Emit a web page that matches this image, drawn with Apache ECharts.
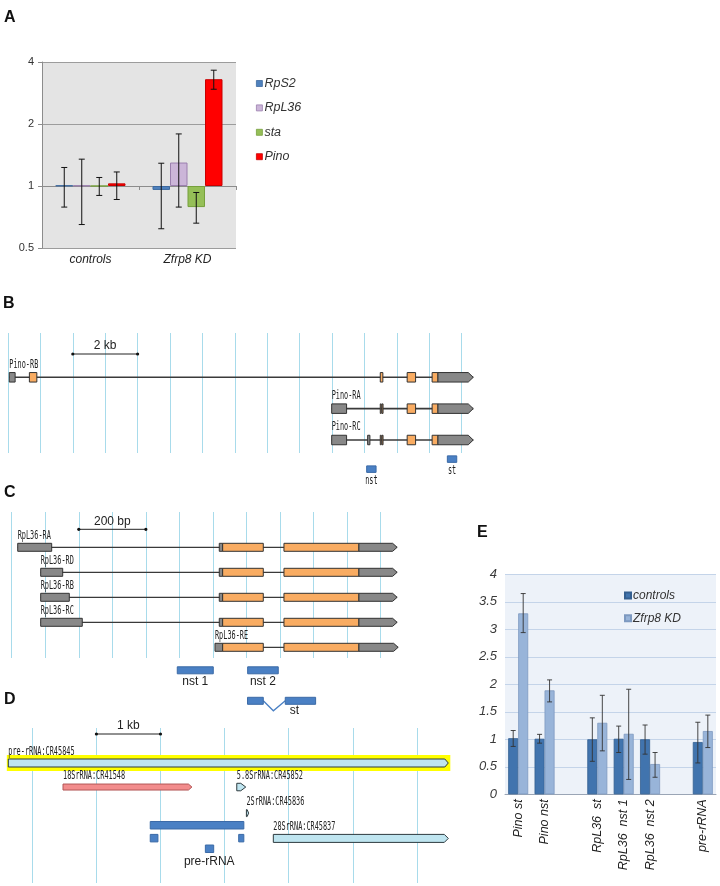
<!DOCTYPE html>
<html><head><meta charset="utf-8">
<script src="https://cdn.jsdelivr.net/npm/echarts@6/dist/echarts.min.js"></script>
<style>html,body{margin:0;padding:0;background:#fff}#c{width:720px;height:886px}</style>
</head><body><div id="c"></div>
<script>
// ===================== DATA =====================
// Panel A (fold change, log2 axis)
const aCategories = ['controls', 'Zfrp8 KD'];
const aSeriesNames = ['RpS2', 'RpL36', 'sta', 'Pino'];
const aRpS2 = [1.005, 0.957];
const aRpL36 = [1.005, 1.30];
const aSta = [1.0, 0.79];
const aPino = [1.03, 3.30];
const aErrLow = [[0.79, 0.62], [0.65, 0.79], [0.90, 0.66], [0.86, 2.95]];
const aErrHigh = [[1.23, 1.29], [1.35, 1.79], [1.10, 0.93], [1.17, 3.65]];
const aTicks = [0.5, 1, 2, 4];

// Panel B (Pino locus, kb)
const bNames = ['Pino-RB', 'Pino-RA', 'Pino-RC'];
const bLines = [[0, 0.04, 14.36], [1, 9.99, 14.36], [2, 9.99, 14.36]];
const bUTR = [[0, 0.04, 0.22], [1, 9.99, 10.45], [2, 9.99, 10.45], [2, 11.10, 11.17]];
const bCDS = [[0, 0.66, 0.89], [0, 11.49, 11.57], [0, 12.32, 12.58], [0, 13.09, 13.27],
              [1, 11.49, 11.50], [1, 11.545, 11.555], [1, 12.32, 12.58], [1, 13.09, 13.27],
              [2, 11.49, 11.50], [2, 11.545, 11.555], [2, 12.32, 12.58], [2, 13.09, 13.27]];
const bUTR3 = [[0, 13.27, 14.36], [1, 13.27, 14.36], [2, 13.27, 14.36]];
const bProbeNames = ['nst', 'st'];
const bProbes = [[2.93, 11.07, 11.36], [2.61, 13.56, 13.85]];
const bScale = [[-0.743, 2, 4]];
const bScaleText = ['2 kb'];

// Panel C (RpL36 locus, bp)
const cNames = ['RpL36-RA', 'RpL36-RD', 'RpL36-RB', 'RpL36-RC', 'RpL36-RE'];
const cLines = [[0, 17.9, 1149], [1, 86.4, 1149], [2, 86.4, 1149], [3, 86.4, 1149], [4, 606, 1152]];
const cUTR = [[0, 17.9, 119.2], [0, 618.8, 628.9], [1, 86.4, 152], [1, 618.8, 628.9],
              [2, 86.4, 171.7], [2, 618.8, 628.9], [3, 86.4, 210.4], [3, 618.8, 628.9], [4, 606, 628.9]];
const cCDS = [[0, 628.9, 750], [0, 811.6, 1035], [1, 628.9, 750], [1, 811.6, 1035],
              [2, 628.9, 750], [2, 811.6, 1035], [3, 628.9, 750], [3, 811.6, 1035],
              [4, 628.9, 750], [4, 811.6, 1035]];
const cUTR3 = [[0, 1035, 1149], [1, 1035, 1149], [2, 1035, 1149], [3, 1035, 1149], [4, 1035, 1152]];
const cProbeNames = ['nst 1', 'nst 2'];
const cProbes = [[4.92, 493.6, 600.9], [4.92, 703.4, 794.6]];
const cStName = ['st'];
const cStProbe = [[6.14, 703, 750, 815.5, 906, 780]];
const cScale = [[-0.72, 200, 400]];
const cScaleText = ['200 bp'];

// Panel D (rDNA unit, kb)
const dNames = ['pre-rRNA:CR45845', '18SrRNA:CR41548', '5.8SrRNA:CR45852', '2SrRNA:CR45836', '28SrRNA:CR45837'];
const dFeatures = [[0, -0.374, 6.49], [0.95, 0.479, 2.49], [0.95, 3.19, 3.33], [1.98, 3.34, 3.375], [2.98, 3.76, 6.49]];
const dProbes = [[2.46, 1.84, 3.30], [2.97, 1.84, 1.96], [2.97, 3.22, 3.30], [3.39, 2.70, 2.83]];
const dProbeName = ['pre-rRNA'];
const dProbeLabel = [[3.39, 2.76]];
const dScale = [[-1.146, 1, 2]];
const dScaleText = ['1 kb'];

// Panel E (relative expression)
const eCategories = ['Pino st', 'Pino nst', '', 'RpL36  st', 'RpL36  nst 1', 'RpL36  nst 2', ' ', 'pre-rRNA'];
const eSeriesNames = ['controls', 'Zfrp8 KD'];
const eControls = [1.02, 1.01, null, 1.00, 1.01, 1.00, null, 0.95];
const eKD = [3.29, 1.89, null, 1.30, 1.10, 0.55, null, 1.15];
const eCtrlLow = [0.87, 0.93, null, 0.60, 0.76, 0.73, null, 0.57];
const eCtrlHigh = [1.16, 1.09, null, 1.39, 1.24, 1.26, null, 1.31];
const eKDLow = [2.94, 1.68, null, 0.79, 0.27, 0.31, null, 0.85];
const eKDHigh = [3.65, 2.08, null, 1.80, 1.91, 0.76, null, 1.44];

// ===================== STYLE / LAYOUT =====================
const FONT = 'Liberation Sans, Arial, sans-serif';
const MONO = '"DejaVu Sans Mono"';
const ORANGE = '#f9ac62', GREY = '#888888', EDGE = '#333333';
const PROBE = '#4a80c4', PROBE_EDGE = '#3b6aa6';
const VLINE = '#a8dbeb';
const NAME_FONT = '12.5px ' + MONO, NAME_SX = 0.55;

function rowRange(top, height, y0, step) {
  return { min: (top - y0) / step, max: (top + height - y0) / step };
}
const bRows = rowRange(333, 120, 377.3, 31.35);
const cRows = rowRange(512, 146, 547.3, 25);
const dRows = rowRange(728, 155, 763, 25.3);

function cs(gi, data, render, z) {
  return { type: 'custom', xAxisIndex: gi, yAxisIndex: gi, data: data, clip: false, silent: true,
    z: z || 2, animation: false, renderItem: render };
}
function pts(api) {
  const r = api.value(0);
  const p0 = api.coord([api.value(1), r]);
  const p1 = api.coord([api.value(2), r]);
  return [p0[0], p1[0], p0[1]];
}
function lineR(color, w) {
  return (params, api) => {
    const [x0, x1, y] = pts(api);
    return { type: 'line', shape: { x1: x0, y1: y, x2: x1, y2: y }, style: { stroke: color, lineWidth: w } };
  };
}
function boxR(h, fill, stroke, minW) {
  return (params, api) => {
    const [x0, x1, y] = pts(api);
    const w = Math.max(x1 - x0, minW || 1);
    return { type: 'rect', shape: { x: x0, y: y - h / 2, width: w, height: h },
      style: { fill: fill, stroke: stroke, lineWidth: 1 } };
  };
}
function arrowR(h, tip, fill, stroke) {
  return (params, api) => {
    const [x0, x1, y] = pts(api);
    const t = Math.min(tip, x1 - x0);
    return { type: 'polygon', shape: { points: [[x0, y - h / 2], [x1 - t, y - h / 2], [x1, y], [x1 - t, y + h / 2], [x0, y + h / 2]] },
      style: { fill: fill, stroke: stroke, lineWidth: 1 } };
  };
}
function nameR(names, dy) {
  return (params, api) => {
    const p = api.coord([api.value(1), api.value(0)]);
    return { type: 'text', x: p[0], y: p[1] + dy, scaleX: NAME_SX, scaleY: 1,
      style: { text: names[params.dataIndex], font: NAME_FONT, fill: '#222', align: 'left', verticalAlign: 'middle' } };
  };
}
function centerLabelR(names, dy, font, narrow) {
  return (params, api) => {
    const r = api.value(0);
    const xs = api.value(2);
    const xm = isNaN(xs) ? api.value(1) : (api.value(1) + xs) / 2;
    const p = api.coord([xm, r]);
    return { type: 'text', x: p[0], y: p[1] + dy, scaleX: narrow ? NAME_SX : 1, scaleY: 1,
      style: { text: names[params.dataIndex], font: font, fill: '#222', align: 'center', verticalAlign: 'middle' } };
  };
}
function scaleR(texts) {
  return (params, api) => {
    const [x0, x1, y] = pts(api);
    return { type: 'group', children: [
      { type: 'line', shape: { x1: x0, y1: y, x2: x1, y2: y }, style: { stroke: '#222', lineWidth: 1 } },
      { type: 'circle', shape: { cx: x0, cy: y, r: 1.6 }, style: { fill: '#111' } },
      { type: 'circle', shape: { cx: x1, cy: y, r: 1.6 }, style: { fill: '#111' } },
      { type: 'text', x: (x0 + x1) / 2, y: y - 8, style: { text: texts[params.dataIndex], font: '12px ' + FONT, fill: '#222', align: 'center', verticalAlign: 'middle' } }
    ] };
  };
}
function trackX(gi, min, max, interval) {
  return { type: 'value', gridIndex: gi, min: min, max: max, interval: interval,
    axisLine: { show: false }, axisTick: { show: false }, axisLabel: { show: false },
    splitLine: { show: true, lineStyle: { color: VLINE, width: 1 } } };
}
function trackY(gi, rr) {
  return { type: 'value', gridIndex: gi, min: rr.min, max: rr.max, inverse: true, show: false, splitLine: { show: false } };
}

// ===================== SERIES =====================
const series = [];
// Panel A bars
const aData = [aRpS2, aRpL36, aSta, aPino];
const aColors = [['#4f81bd', '#3d6aa0'], ['#cbb5d8', '#9b7fae'], ['#95bf57', '#76a03c'], ['#ff0000', '#c80000']];
const A_BW = 17.5;
aData.forEach((arr, k) => {
  series.push({ type: 'bar', name: aSeriesNames[k], xAxisIndex: 0, yAxisIndex: 0, data: arr.map(Math.log2),
    barWidth: A_BW, barGap: '0%', animation: false,
    itemStyle: { color: aColors[k][0], borderColor: aColors[k][1], borderWidth: 1 } });
});
aData.forEach((arr, k) => {
  const d = arr.map((v, i) => [i, Math.log2(aErrLow[k][i]), Math.log2(aErrHigh[k][i])]);
  series.push({ type: 'custom', xAxisIndex: 0, yAxisIndex: 0, data: d, z: 5, silent: true, animation: false,
    renderItem: (params, api) => {
      const pl = api.coord([api.value(0), api.value(1)]);
      const ph = api.coord([api.value(0), api.value(2)]);
      const x = pl[0] + (k - 1.5) * A_BW;
      const c = 3;
      return { type: 'group', children: [
        { type: 'line', shape: { x1: x, y1: pl[1], x2: x, y2: ph[1] }, style: { stroke: '#111', lineWidth: 1 } },
        { type: 'line', shape: { x1: x - c, y1: pl[1], x2: x + c, y2: pl[1] }, style: { stroke: '#111', lineWidth: 1 } },
        { type: 'line', shape: { x1: x - c, y1: ph[1], x2: x + c, y2: ph[1] }, style: { stroke: '#111', lineWidth: 1 } }
      ] };
    } });
});

// Panel B
series.push(cs(1, bLines, lineR('#3a3a3a', 1.6), 2));
series.push(cs(1, bUTR, boxR(9.5, GREY, EDGE, 2), 3));
series.push(cs(1, bCDS, boxR(9.5, ORANGE, EDGE, 1), 3));
series.push(cs(1, bUTR3, arrowR(9.5, 5, GREY, EDGE), 3));
series.push(cs(1, bLines.map(l => [l[0], l[1]]), nameR(bNames, -13), 4));
series.push(cs(1, bProbes, boxR(6.5, PROBE, PROBE_EDGE, 2), 3));
series.push(cs(1, bProbes, centerLabelR(bProbeNames, 12, NAME_FONT, true), 4));
series.push(cs(1, bScale, scaleR(bScaleText), 4));

// Panel C
series.push(cs(2, cLines, lineR('#3a3a3a', 1.3), 2));
series.push(cs(2, cUTR, boxR(8, GREY, EDGE, 2), 3));
series.push(cs(2, cCDS, boxR(8, ORANGE, EDGE, 1), 3));
series.push(cs(2, cUTR3, arrowR(8, 4.5, GREY, EDGE), 3));
series.push(cs(2, cLines.map(l => [l[0], l[1]]), nameR(cNames, -12), 4));
series.push(cs(2, cProbes, boxR(7, PROBE, PROBE_EDGE, 2), 3));
series.push(cs(2, cProbes, centerLabelR(cProbeNames, 11, '12px ' + FONT, false), 4));
series.push(cs(2, cStProbe, (params, api) => {
  const r = api.value(0);
  const a0 = api.coord([api.value(1), r]), a1 = api.coord([api.value(2), r]);
  const b0 = api.coord([api.value(3), r]), b1 = api.coord([api.value(4), r]);
  const v = api.coord([api.value(5), r]);
  const h = 7;
  return { type: 'group', children: [
    { type: 'polyline', shape: { points: [[a1[0], a1[1]], [v[0], v[1] + 10], [b0[0], b0[1]]] }, style: { stroke: PROBE, lineWidth: 1.3, fill: null } },
    { type: 'rect', shape: { x: a0[0], y: a0[1] - h / 2, width: a1[0] - a0[0], height: h }, style: { fill: PROBE, stroke: PROBE_EDGE, lineWidth: 1 } },
    { type: 'rect', shape: { x: b0[0], y: b0[1] - h / 2, width: b1[0] - b0[0], height: h }, style: { fill: PROBE, stroke: PROBE_EDGE, lineWidth: 1 } },
    { type: 'text', x: (b0[0] + b1[0]) / 2 - 6, y: b0[1] + 10, style: { text: cStName[params.dataIndex], font: '12px ' + FONT, fill: '#222', align: 'center', verticalAlign: 'middle' } }
  ] };
}, 4));
series.push(cs(2, cScale, scaleR(cScaleText), 4));

// Panel D
const dFill = ['#bfe5f0', '#f28c8c', '#bfe5f0', '#bfe5f0', '#bfe5f0'];
const dStroke = ['#2d3a3e', '#b35656', '#2d3a3e', '#2d3a3e', '#2d3a3e'];
const dH = [8, 6, 7.5, 7, 8];
const dTip = [3.5, 3.5, 5, 1.5, 4];
series.push(cs(3, [dFeatures[0]], (params, api) => {
  const [x0, x1, y] = pts(api);
  return { type: 'rect', shape: { x: x0 - 1.5, y: y - 8, width: x1 - x0 + 3.5, height: 16 }, style: { fill: '#ffff00' } };
}, 2));
series.push(cs(3, dFeatures, (params, api) => {
  const i = params.dataIndex;
  return arrowR(dH[i], dTip[i], dFill[i], dStroke[i])(params, api);
}, 3));
series.push(cs(3, dFeatures.map(f => [f[0], f[1]]), (params, api) => {
  const p = api.coord([api.value(1), api.value(0)]);
  return { type: 'text', x: p[0], y: p[1] - 11.5, scaleX: NAME_SX, scaleY: 1,
    style: { text: dNames[params.dataIndex], font: NAME_FONT, fill: '#222', align: 'left', verticalAlign: 'middle' } };
}, 4));
series.push(cs(3, dProbes, boxR(7.5, PROBE, PROBE_EDGE, 2), 3));
series.push(cs(3, dProbeLabel, centerLabelR(dProbeName, 13, '12px ' + FONT, false), 4));
series.push(cs(3, dScale, scaleR(dScaleText), 4));

// Panel E
const eData = [eControls, eKD];
const eLow = [eCtrlLow, eKDLow], eHigh = [eCtrlHigh, eKDHigh];
const eColors = [['#4174ae', '#345f90'], ['#98b4d9', '#7d99c0']];
const E_BW = 10;
eData.forEach((arr, k) => {
  series.push({ type: 'bar', name: eSeriesNames[k], xAxisIndex: 4, yAxisIndex: 4, data: arr,
    barWidth: E_BW, barGap: '0%', animation: false,
    itemStyle: { color: eColors[k][0], borderColor: eColors[k][1], borderWidth: 0.8 } });
});
eData.forEach((arr, k) => {
  const d = [];
  arr.forEach((v, i) => { if (v !== null) d.push([i, eLow[k][i], eHigh[k][i]]); });
  series.push({ type: 'custom', xAxisIndex: 4, yAxisIndex: 4, data: d, z: 5, silent: true, animation: false,
    renderItem: (params, api) => {
      const pl = api.coord([api.value(0), api.value(1)]);
      const ph = api.coord([api.value(0), api.value(2)]);
      const x = pl[0] + (k - 0.5) * E_BW;
      const c = 2.5;
      const st = { stroke: '#333', lineWidth: 0.9 };
      return { type: 'group', children: [
        { type: 'line', shape: { x1: x, y1: pl[1], x2: x, y2: ph[1] }, style: st },
        { type: 'line', shape: { x1: x - c, y1: pl[1], x2: x + c, y2: pl[1] }, style: st },
        { type: 'line', shape: { x1: x - c, y1: ph[1], x2: x + c, y2: ph[1] }, style: st }
      ] };
    } });
});

// ===================== OPTION =====================
const aMin = Math.log2(aTicks[0]), aMax = Math.log2(aTicks[aTicks.length - 1]);
const panelLabel = (t, x, y) => ({ type: 'text', left: x, top: y,
  style: { text: t, font: 'bold 16px ' + FONT, fill: '#111' } });

const option = {
  animation: false,
  backgroundColor: '#ffffff',
  textStyle: { fontFamily: FONT },
  graphic: [
    panelLabel('A', 4, 10), panelLabel('B', 3, 296), panelLabel('C', 4, 485),
    panelLabel('D', 4, 692), panelLabel('E', 477, 525)
  ],
  grid: [
    { left: 42, top: 62, width: 194, height: 186, show: true, backgroundColor: '#e4e4e4', borderWidth: 0 },
    { left: 8, top: 333, width: 453.6, height: 120 },
    { left: 11.7, top: 512, width: 369, height: 146 },
    { left: 32.3, top: 728, width: 384.6, height: 155 },
    { left: 505, top: 574.3, width: 211, height: 220, show: true, backgroundColor: '#edf2f9', borderWidth: 0 }
  ],
  legend: [
    { data: aSeriesNames, orient: 'vertical', left: 251, top: 71.5, itemWidth: 6, itemHeight: 6, itemGap: 10.4,
      icon: 'rect', itemStyle: { borderWidth: 0.8 },
      textStyle: { fontStyle: 'italic', fontSize: 12.5, color: '#333', lineHeight: 14, padding: [0, 0, 0, -3] } },
    { data: eSeriesNames, orient: 'vertical', left: 619, top: 583.5, itemWidth: 6, itemHeight: 6, itemGap: 8.7,
      icon: 'rect', textStyle: { fontStyle: 'italic', fontSize: 12, color: '#333', lineHeight: 14, padding: [0, 0, 0, -3] } }
  ],
  xAxis: [
    { type: 'category', gridIndex: 0, data: aCategories,
      axisLine: { onZero: true, lineStyle: { color: '#8c8c8c', width: 1 } },
      axisTick: { show: true, length: 4, lineStyle: { color: '#8c8c8c' } },
      axisLabel: { fontStyle: 'italic', fontSize: 12, color: '#222', margin: 6 },
      splitLine: { show: false } },
    trackX(1, 0, 14, 1),
    trackX(2, 0, 1100, 100),
    trackX(3, 0, 6, 1),
    { type: 'category', gridIndex: 4, data: eCategories,
      axisLine: { lineStyle: { color: '#9aa5b5', width: 1 } },
      axisTick: { show: false },
      axisLabel: { rotate: 90, interval: 0, fontStyle: 'italic', fontSize: 12.5, color: '#222', margin: 5 },
      splitLine: { show: false } }
  ],
  yAxis: [
    { type: 'value', gridIndex: 0, min: aMin, max: aMax, interval: 1,
      axisLine: { show: true, lineStyle: { color: '#8c8c8c' } },
      axisTick: { show: true, length: 4, lineStyle: { color: '#8c8c8c' } },
      axisLabel: { fontSize: 11, color: '#333', margin: 8,
        formatter: v => { const t = aTicks.find(tt => Math.abs(Math.log2(tt) - v) < 1e-6); return t === undefined ? '' : String(t); } },
      splitLine: { show: true, lineStyle: { color: '#9c9c9c', width: 1 } } },
    trackY(1, bRows),
    trackY(2, cRows),
    trackY(3, dRows),
    { type: 'value', gridIndex: 4, min: 0, max: 4, interval: 0.5,
      axisLine: { show: false }, axisTick: { show: false },
      axisLabel: { fontStyle: 'italic', fontSize: 13, color: '#3a3a3a', margin: 8 },
      splitLine: { show: true, lineStyle: { color: '#c4d4e9', width: 1 } } }
  ],
  series: series
};

const chart = echarts.init(document.getElementById('c'));
chart.setOption(option);
</script>
</body></html>
